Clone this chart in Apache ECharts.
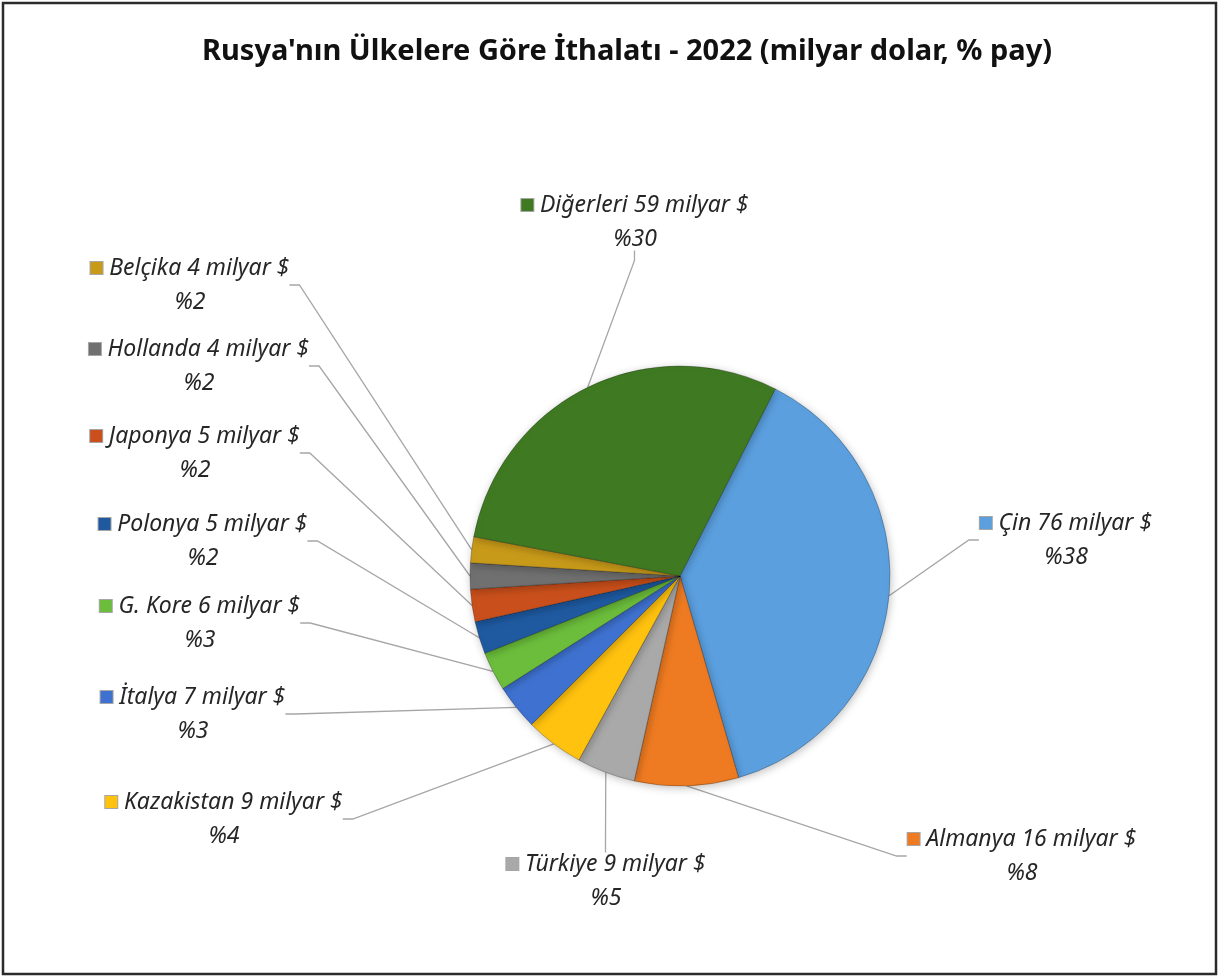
<!DOCTYPE html>
<html><head><meta charset="utf-8">
<script src="https://cdn.jsdelivr.net/npm/echarts@6/dist/echarts.min.js"></script>
<style>html,body{margin:0;padding:0;background:#fff}#c{width:1220px;height:977px}</style>
</head><body><div id="c"></div>
<script>
// ---- data ----
const countries = ['Çin','Almanya','Türkiye','Kazakistan','İtalya','G. Kore','Polonya','Japonya','Hollanda','Belçika','Diğerleri'];
const valuesBn  = [76, 16, 9, 9, 7, 6, 5, 5, 4, 4, 59];
const sharePct  = [38, 8, 5, 4, 3, 3, 2, 2, 2, 2, 30];
const titleText = "Rusya'nın Ülkelere Göre İthalatı - 2022 (milyar dolar, % pay)";

// ---- styles / layout ----
const colors = ['#5b9fdf','#ee7b22','#a9a9a9','#ffc20e','#3f72d0','#6cbd3c','#1f5aa0','#c9501c','#707070','#c89a1a','#3f7a23'];
const labelPos = [[1066,540],[1022,856],[606,881],[224,819],[193,714],[200,623],[203,541],[195,453],[199,366],[190,285],[635,222]];

const chart = echarts.init(document.getElementById('c'), null, {renderer:'canvas'});
const data = countries.map((n, i) => ({
  name: n,
  value: valuesBn[i],
  itemStyle: {color: colors[i]},
  label: {
    formatter: '{k|}  {t|' + n + ' ' + valuesBn[i] + ' milyar $}\n{t|%' + sharePct[i] + '}',
    rich: {
      k: {backgroundColor: colors[i], width: 12, height: 12, borderColor: 'rgba(0,0,0,0.35)', borderWidth: 1},
      t: {fontFamily: 'Noto Sans', fontStyle: 'italic', fontSize: 23, color: '#262626', lineHeight: 34}
    }
  }
}));

chart.setOption({
  animation: false,
  title: {
    text: titleText, left: 197, top: 32,
    textStyle: {fontFamily: 'Noto Sans', fontWeight: 'bold', fontSize: 29, color: '#111'}
  },
  graphic: [{
    type: 'rect', silent: true, z: -1,
    shape: {x: 3, y: 3, width: 1213, height: 971},
    style: {fill: 'none', stroke: '#2b2b2b', lineWidth: 2.5}
  }],
  series: [{
    type: 'pie',
    center: [680, 576],
    radius: 210,
    startAngle: 63,
    clockwise: true,
    data: data,
    itemStyle: {borderColor: 'rgba(0,0,0,0.25)', borderWidth: 1, shadowBlur: 8, shadowColor: 'rgba(0,0,0,0.25)', shadowOffsetX: 1, shadowOffsetY: 2},
    label: {show: true, align: 'center'},
    labelLine: {show: true, length: 10, length2: 10, lineStyle: {color: '#a6a6a6', width: 1.3}},
    labelLayout: function (p) {
      const q = labelPos[p.dataIndex];
      return {x: q[0], y: q[1], align: 'center', verticalAlign: 'middle'};
    },
    emphasis: {disabled: true}
  }]
});
</script></body></html>
